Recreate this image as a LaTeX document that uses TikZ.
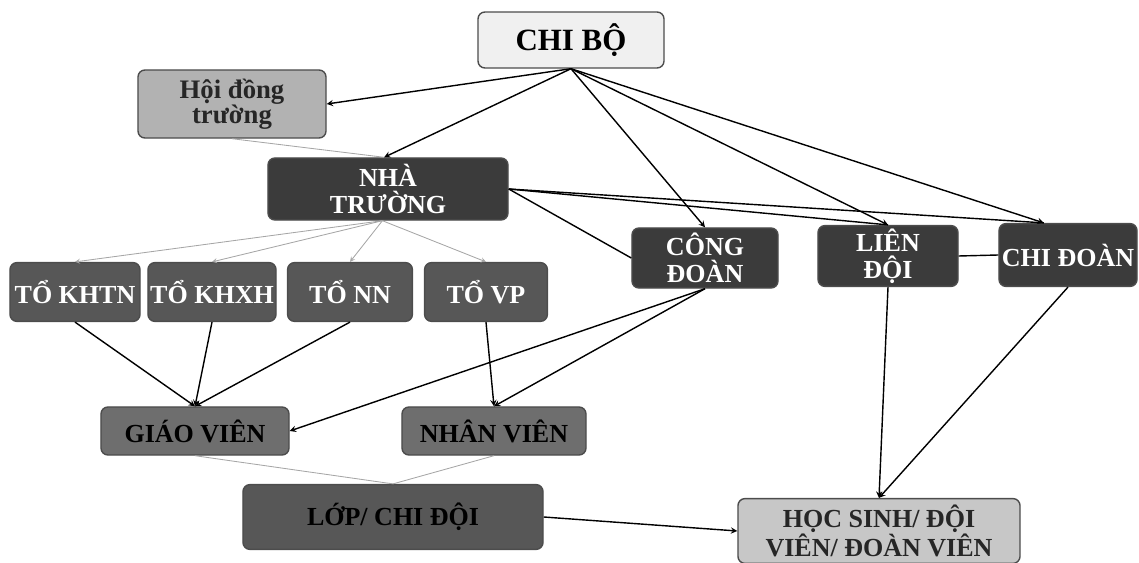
\documentclass[tikz,border=0pt]{standalone}
\usepackage{fontspec}
\setmainfont{Liberation Serif}
\begin{document}
\begin{tikzpicture}[x=0.025cm, y=-0.025cm, >=stealth, line width=1pt,
	box/.style = {draw=black!70, rounded corners=5pt, align=center, inner sep=1pt, font=\bfseries\fontsize{18.5}{19}\selectfont},
	dark/.style = {box, fill=black!77, text=white},
	unit/.style = {box, fill=black!66, text=white},
	grey/.style = {box, fill=black!57, text=black},
	light/.style = {box, fill=black!30, text=black!85},
	faint/.style = {draw=black!35, line width=0.6pt}]

	\useasboundingbox (0,0) rectangle (1139,563);

	\node[box, fill=blue!3!black!6, minimum width=4.65cm, minimum height=1.4cm, font=\bfseries\fontsize{22}{24}\selectfont] (1) at (571,40) {CHI BỘ};
	\node[light, minimum width=4.7cm, minimum height=1.7cm, font=\bfseries\fontsize{19}{18}\selectfont] (2) at (232,104) {Hội đồng\\trường};
	\node[dark, minimum width=6cm, minimum height=1.55cm] (3) at (388,189) {NHÀ\\TRƯỜNG};

	\node[dark, minimum width=3.65cm, minimum height=1.5cm] (4) at (705,258) {CÔNG\\ĐOÀN};
	\node[dark, minimum width=3.5cm, minimum height=1.52cm] (5) at (888,256) {LIÊN\\ĐỘI};
	\node[dark, minimum width=3.45cm, minimum height=1.57cm] (6) at (1068,255) {CHI ĐOÀN};

	\node[unit, minimum width=3.25cm, minimum height=1.47cm] (7) at (75,292) {TỔ KHTN};
	\node[unit, minimum width=3.2cm, minimum height=1.47cm] (8) at (212,292) {TỔ KHXH};
	\node[unit, minimum width=3.12cm, minimum height=1.47cm] (9) at (350,292) {TỔ NN};
	\node[unit, minimum width=3.07cm, minimum height=1.47cm] (10) at (486,292) {TỔ VP};

	\node[grey, minimum width=4.7cm, minimum height=1.2cm] (11) at (195,431) {GIÁO VIÊN};
	\node[grey, minimum width=4.6cm, minimum height=1.2cm] (12) at (494,431) {NHÂN VIÊN};
	\node[grey, fill=black!66, minimum width=7.5cm, minimum height=1.62cm] (13) at (393,517) {LỚP/ CHI ĐỘI};
	\node[light, fill=black!22, minimum width=7.05cm, minimum height=1.62cm] (14) at (879,531) {HỌC SINH/ ĐỘI\\VIÊN/ ĐOÀN VIÊN};

	% chi bo
	\draw[->] (1.south) to (2.east);
	\draw[->] (1.south) to (3.97);
	\draw[->] (1.south) to (4.north);
	\draw[->] (1.south) to (5.north);
	\draw[->] (1.south) to (6.127);
	\draw[faint] (2.south) to (3.97);

	% nha truong
	\draw (3.east) to (4.west);
	\draw (3.east) to (5.north);
	\draw (3.east) to (6.127);
	\draw[->, faint] (3.260) to (7.north);
	\draw[->, faint] (3.260) to (8.north);
	\draw[->, faint] (3.260) to (9.north);
	\draw[->, faint] (3.260) to (10.north);
	\draw (5.east) to (6.west);

	% to -> giao vien, nhan vien
	\draw[->] (7.south) to (11.north);
	\draw[->] (8.south) to (11.north);
	\draw[->] (9.south) to (11.north);
	\draw[->] (10.south) to (12.north);
	\draw[->] (4.south) to (11.east);
	\draw[->] (4.south) to (12.north);

	% hoc sinh
	\draw[->] (5.south) to (14.north);
	\draw[->] (6.south) to (14.north);
	\draw[faint] (11.south) to (13.north);
	\draw[faint] (12.south) to (13.north);
	\draw[->] (13.east) to (14.west);
\end{tikzpicture}
\end{document}
